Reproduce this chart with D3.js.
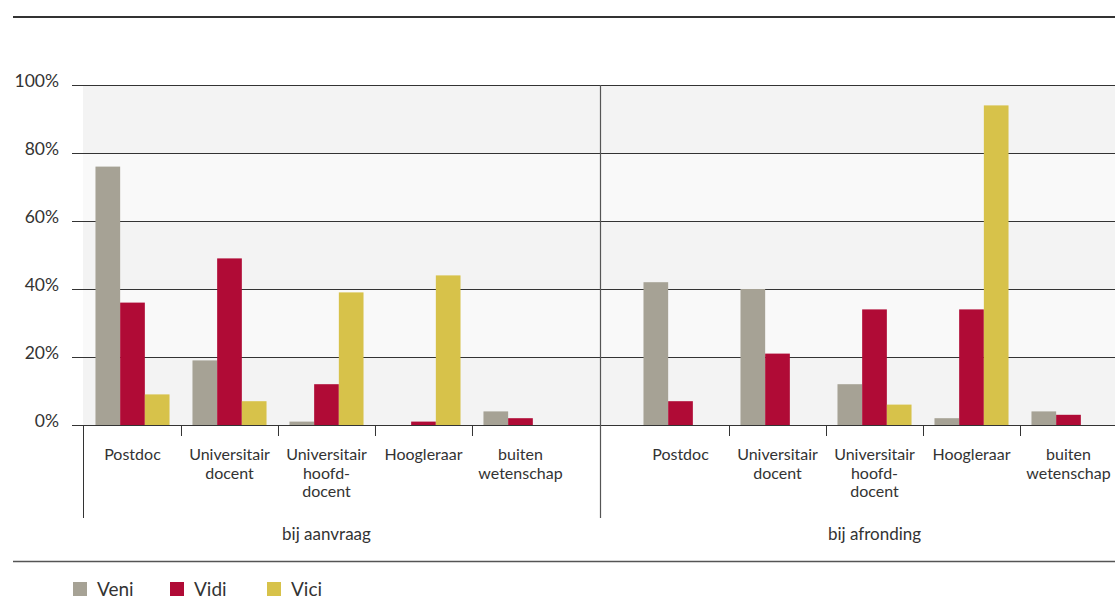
<!DOCTYPE html>
<html>
<head>
<meta charset="utf-8">
<script src="https://cdn.jsdelivr.net/npm/d3@7"></script>
<style>
  html, body { margin: 0; padding: 0; background: #fff; }
  svg { display: block; }
  text { font-family: Lato, "Open Sans", sans-serif; fill: #333; }
</style>
</head>
<body>
<svg id="chart" width="1115" height="596"></svg>
<script>
// Career position of Veni, Vidi and Vici grantees, at application and at completion
const phases = ["bij aanvraag", "bij afronding"];
const categories = ["Postdoc", "Universitair docent", "Universitair hoofd-docent", "Hoogleraar", "buiten wetenschap"];
const categoryLines = [["Postdoc"], ["Universitair", "docent"], ["Universitair", "hoofd-", "docent"], ["Hoogleraar"], ["buiten", "wetenschap"]];
const seriesNames = ["Veni", "Vidi", "Vici"];
const seriesColors = ["#a6a295", "#b00b36", "#d7c24a"];
const yTicks = [0, 20, 40, 60, 80, 100];

// percentages per category, in the order of `categories`
const veniAanvraag = [76, 19, 1, 0, 4];
const vidiAanvraag = [36, 49, 12, 1, 2];
const viciAanvraag = [9, 7, 39, 44, 0];
const veniAfronding = [42, 40, 12, 2, 4];
const vidiAfronding = [7, 21, 34, 34, 3];
const viciAfronding = [0, 0, 6, 94, 0];

const values = {
  "bij aanvraag": { Veni: veniAanvraag, Vidi: vidiAanvraag, Vici: viciAanvraag },
  "bij afronding": { Veni: veniAfronding, Vidi: vidiAfronding, Vici: viciAfronding }
};

const W = 1115;
const svg = d3.select("#chart");

const y = d3.scaleLinear().domain([0, 100]).range([425, 85]);

// one band per phase panel, categories inside each panel, series inside each category
const xPhase = d3.scaleBand().domain(phases).range([84, 1117]).paddingInner(0.115).paddingOuter(0);
const xCat = d3.scaleBand().domain(categories).range([0, xPhase.bandwidth()]);
const xSeries = d3.scaleBand().domain(seriesNames).range([0, xCat.bandwidth()]).paddingOuter(0.465);
const color = d3.scaleOrdinal(seriesNames, seriesColors);

// alternating background bands
const plotLeft = 83;
svg.append("g").selectAll("rect")
  .data(d3.pairs(yTicks))
  .join("rect")
  .attr("x", plotLeft)
  .attr("width", W - plotLeft)
  .attr("y", d => y(d[1]))
  .attr("height", d => y(d[0]) - y(d[1]))
  .attr("fill", (d, i) => i % 2 === 0 ? "#f3f3f3" : "#f9f9f9");

// top and bottom rules
svg.append("line").attr("x1", 13).attr("x2", W).attr("y1", 17).attr("y2", 17)
  .attr("stroke", "#333").attr("stroke-width", 2);
svg.append("line").attr("x1", 13).attr("x2", W).attr("y1", 561.5).attr("y2", 561.5)
  .attr("stroke", "#555").attr("stroke-width", 1.5);

// y axis: gridlines and labels
const yAxis = d3.axisLeft(y).tickValues(yTicks).tickSize(-(W - 72)).tickFormat(d => d + "%").tickPadding(13);
const gy = svg.append("g").attr("transform", "translate(72,0)").call(yAxis);
gy.select(".domain").remove();
gy.selectAll(".tick line").attr("stroke", "#333").attr("stroke-width", 1).attr("x1", 0).attr("x2", W - 72);
gy.selectAll(".tick text")
  .attr("font-size", 17.5)
  .attr("font-family", "Lato, 'Open Sans', sans-serif")
  .attr("fill", "#333")
  .attr("dy", "0.06em")
  .attr("y", 0)
  .attr("x", -13);

// panels
const panel = svg.append("g").selectAll("g.panel")
  .data(phases)
  .join("g")
  .attr("class", "panel")
  .attr("transform", d => `translate(${xPhase(d)},0)`);

const group = panel.selectAll("g.cat")
  .data(p => categories.map((c, i) => ({ phase: p, cat: c, i })))
  .join("g")
  .attr("class", "cat")
  .attr("transform", d => `translate(${xCat(d.cat)},0)`);

group.selectAll("rect")
  .data(d => seriesNames.map(s => ({ s, v: values[d.phase][s][d.i] })))
  .join("rect")
  .attr("x", d => xSeries(d.s))
  .attr("width", xSeries.bandwidth())
  .attr("y", d => y(d.v))
  .attr("height", d => y(0) - y(d.v))
  .attr("fill", d => color(d.s));

// ticks between categories
group.filter(d => d.i > 0).append("line")
  .attr("x1", 0.5).attr("x2", 0.5)
  .attr("y1", y(0)).attr("y2", y(0) + 11)
  .attr("stroke", "#333").attr("stroke-width", 1);

// category labels
group.append("text")
  .attr("text-anchor", "middle")
  .attr("font-size", 16)
  .selectAll("tspan")
  .data(d => categoryLines[d.i])
  .join("tspan")
  .attr("x", xCat.bandwidth() / 2)
  .attr("y", (d, k) => 460 + k * 18.7)
  .text(d => d);

// phase labels
panel.append("text")
  .attr("x", xPhase.bandwidth() / 2)
  .attr("y", 540)
  .attr("text-anchor", "middle")
  .attr("font-size", 17)
  .text(d => d);

// left axis stub and panel divider
svg.append("line").attr("x1", 83.5).attr("x2", 83.5).attr("y1", y(0)).attr("y2", 518)
  .attr("stroke", "#333").attr("stroke-width", 1);
const divX = (xPhase(phases[0]) + xPhase.bandwidth() + xPhase(phases[1])) / 2;
svg.append("line").attr("x1", divX).attr("x2", divX).attr("y1", y(100)).attr("y2", 518)
  .attr("stroke", "#555").attr("stroke-width", 1.2);

// legend
const legend = svg.append("g").selectAll("g")
  .data(seriesNames)
  .join("g")
  .attr("transform", (d, i) => `translate(${[73, 170, 267][i]},582)`);
legend.append("rect").attr("width", 14).attr("height", 14).attr("fill", d => color(d));
legend.append("text").attr("x", 24).attr("y", 14).attr("font-size", 19).text(d => d);
</script>
</body>
</html>
